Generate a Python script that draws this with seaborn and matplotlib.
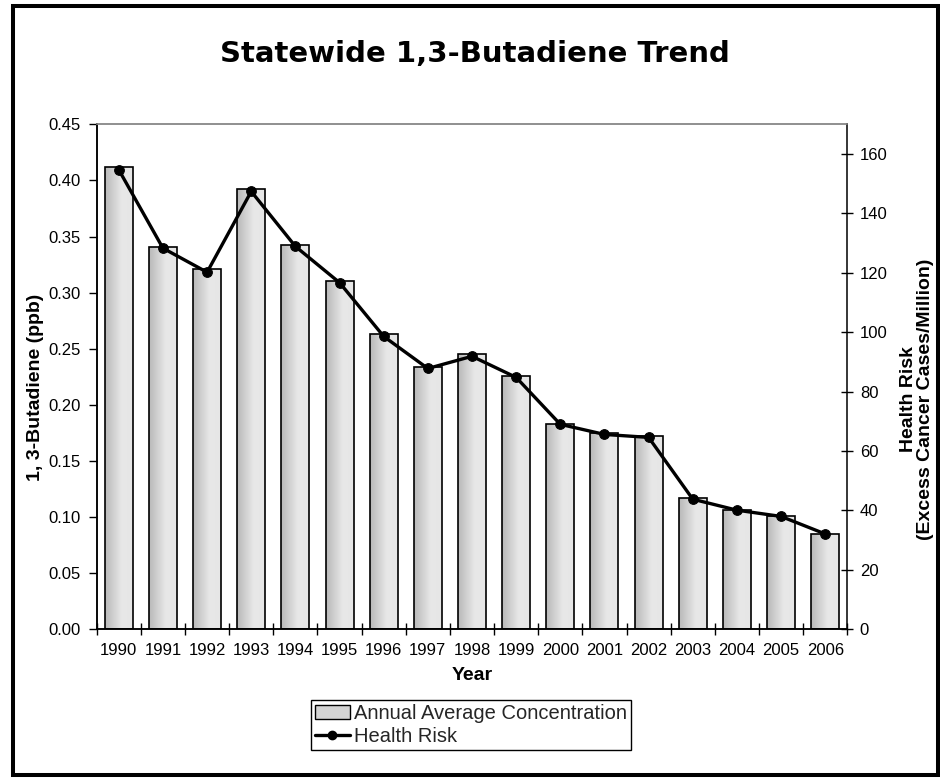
import numpy as np
import pandas as pd
import matplotlib
matplotlib.use("Agg")
import matplotlib.pyplot as plt
import seaborn as sns
from matplotlib.patches import Patch, Rectangle
from matplotlib.lines import Line2D
from matplotlib.colors import LinearSegmentedColormap
from matplotlib.ticker import FormatStrFormatter, MultipleLocator, FixedLocator

# ---- data ----
years = ["1990", "1991", "1992", "1993", "1994", "1995", "1996", "1997", "1998",
         "1999", "2000", "2001", "2002", "2003", "2004", "2005", "2006"]
concentration = [0.412, 0.341, 0.321, 0.392, 0.342, 0.310, 0.263, 0.234, 0.245,
                 0.226, 0.183, 0.175, 0.172, 0.117, 0.106, 0.101, 0.085]
health_risk = [154.7, 128.3, 120.2, 147.4, 128.9, 116.7, 98.6, 87.8, 91.9,
               84.8, 69.0, 65.6, 64.6, 43.8, 40.1, 38.0, 32.1]

title = "Statewide 1,3-Butadiene Trend"
bar_label = "Annual Average Concentration"
line_label = "Health Risk"

sns.set_theme(style="white")
plt.rcParams["font.family"] = ["Liberation Sans", "DejaVu Sans"]

df = pd.DataFrame({"Year": years, "Conc": concentration, "Risk": health_risk})
df["pos"] = np.arange(len(df))

fig = plt.figure(figsize=(9.4, 7.78), dpi=100)
ax = fig.add_axes([96.7 / 940, 1 - 629.3 / 778, (847.3 - 96.7) / 940, (629.3 - 124.3) / 778])

sns.barplot(data=df, x="Year", y="Conc", ax=ax, width=0.634, color="#d8d8d8",
            edgecolor="black", linewidth=1.2, saturation=1)
ax.set_xlim(-0.5, len(years) - 0.5)
ax.set_ylim(0, 0.45)

# gradient fill for bars
cmap = LinearSegmentedColormap.from_list(
    "g", [(0.0, "#b8b8b8"), (0.6, "#e8e8e8"), (1.0, "#e6e6e6")])
grad = np.linspace(0, 1, 256).reshape(1, -1)
for p in list(ax.patches):
    x0, y0 = p.get_x(), p.get_y()
    w, h = p.get_width(), p.get_height()
    im = ax.imshow(grad, extent=[x0, x0 + w, y0, y0 + h], cmap=cmap,
                   aspect="auto", zorder=p.get_zorder() - 0.1, interpolation="bilinear")
    im.set_clip_path(p)
    p.set_facecolor("none")
ax.set_xlim(-0.5, len(years) - 0.5)
ax.set_ylim(0, 0.45)

ax2 = ax.twinx()
sns.lineplot(data=df, x="pos", y="Risk", ax=ax2, color="black", linewidth=2.4,
             marker="o", markersize=7, markeredgecolor="black", markerfacecolor="black")
ax2.set_ylim(0, 170)
ax2.set_xlim(-0.5, len(years) - 0.5)

# axes styling
ax.yaxis.set_major_locator(MultipleLocator(0.05))
ax.yaxis.set_major_formatter(FormatStrFormatter("%.2f"))
ax2.yaxis.set_major_locator(MultipleLocator(20))
ax2.set_ylim(0, 170)

for a in (ax, ax2):
    for s in ("left", "right", "bottom"):
        a.spines[s].set_color("black")
        a.spines[s].set_linewidth(1.1)
    a.spines["top"].set_color("#8c8c8c")
    a.spines["top"].set_linewidth(1.1)
ax.spines["right"].set_visible(False)

ax.tick_params(axis="y", which="major", direction="out", length=5.5, width=1,
               color="black", labelsize=12, pad=6, left=True, labelcolor="black")
ax2.tick_params(axis="y", which="major", direction="inout", length=8, width=1,
                color="black", labelsize=12, pad=5, right=True, labelcolor="black")
ax.tick_params(axis="x", which="major", length=0, labelsize=12, pad=10,
               labelcolor="black", bottom=True)
ax.xaxis.set_minor_locator(FixedLocator(np.arange(len(years) + 1) - 0.5))
ax.tick_params(axis="x", which="minor", direction="inout", length=8, width=1,
               color="black", bottom=True)
ax2.tick_params(axis="x", which="both", bottom=False, top=False, labelbottom=False)

ax.set_xlabel("Year", fontsize=14, fontweight="bold", color="black", labelpad=6)
ax.set_ylabel("1, 3-Butadiene (ppb)", fontsize=14, fontweight="bold", color="black")
ax.yaxis.label.set_verticalalignment("center")
ax.yaxis.set_label_coords(-0.082, 0.48)
ax2.set_xlabel("")
ax2.set_ylabel("Health Risk\n(Excess Cancer Cases/Million)", fontsize=14,
               fontweight="bold", color="black", linespacing=1.0)
ax2.yaxis.label.set_verticalalignment("center")
ax2.yaxis.set_label_coords(1.093, 0.455)

ax.grid(False)
ax2.grid(False)

# title
fig.text(0.505, 0.931, title, ha="center", va="center", fontsize=21,
         fontweight="bold", family="DejaVu Sans", color="black")

# legend
handles = [Patch(facecolor="#d4d4d4", edgecolor="black", linewidth=1.0),
           Line2D([], [], color="black", linewidth=2.4, marker="o", markersize=6)]
leg = fig.legend(handles, [bar_label, line_label], loc="upper center",
                 bbox_to_anchor=(0.501, 1 - 700 / 778), fontsize=14.5,
                 frameon=True, fancybox=False, edgecolor="black", framealpha=1,
                 borderpad=0.2, labelspacing=0.22, handlelength=1.7,
                 handletextpad=0.2, borderaxespad=0)
leg.get_frame().set_linewidth(1.0)

# outer frame
fig.patches.append(Rectangle((13.3 / 940, 3.5 / 778), (937.5 - 13.3) / 940,
                             769 / 778, transform=fig.transFigure,
                             fill=False, edgecolor="black", linewidth=2.9))

fig.savefig("out.png", dpi=100)
